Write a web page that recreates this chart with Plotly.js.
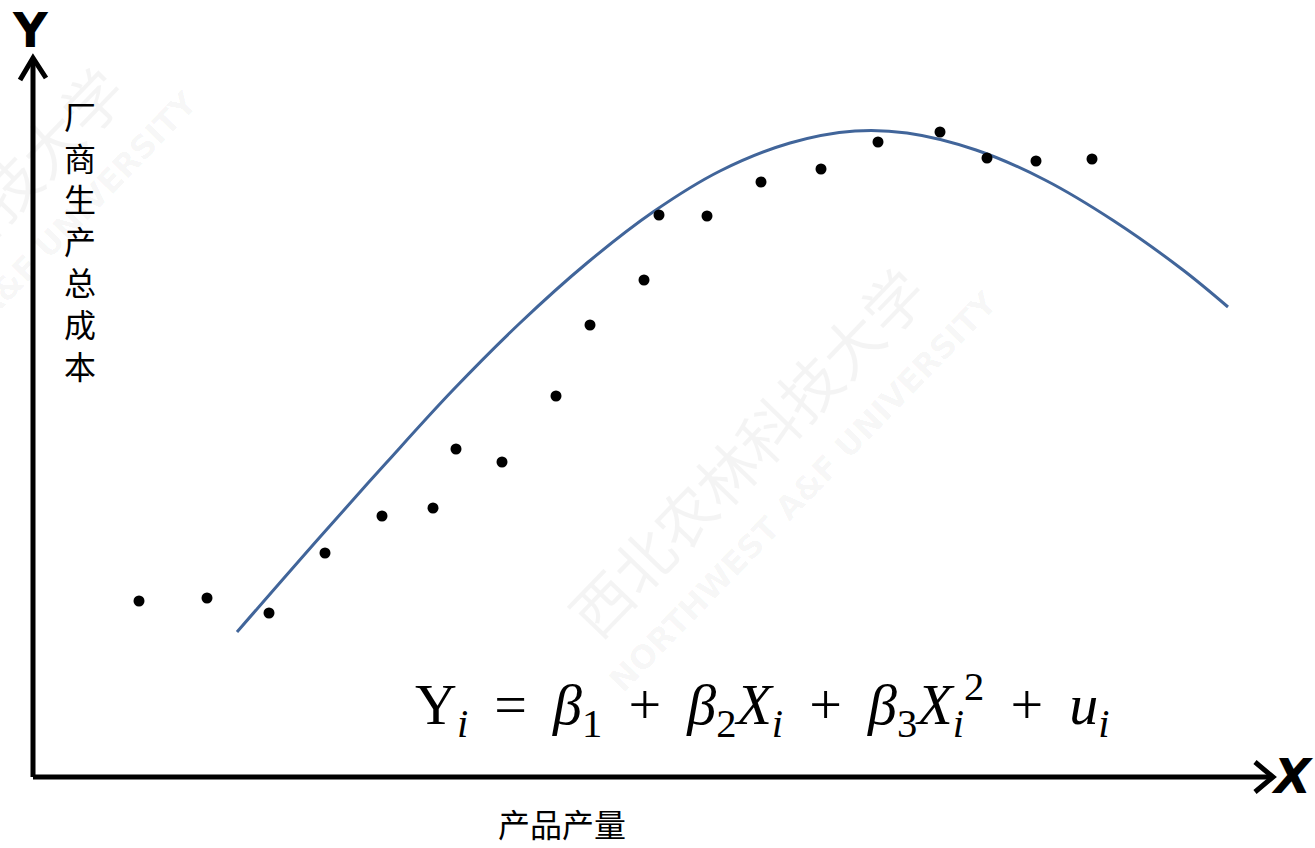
<!DOCTYPE html>
<html>
<head>
<meta charset="utf-8">
<script src="https://cdn.plot.ly/plotly-3.0.1.min.js"></script>
<style>
  html, body { margin: 0; padding: 0; background: #fff; }
  #chart { width: 1315px; height: 848px; }
</style>
</head>
<body>
<div id="chart"></div>
<script>
const qtyDots = [139, 207, 269, 325, 382, 433, 456, 502, 556, 590, 644, 659, 707, 761, 821, 878, 940, 987, 1036, 1092];
const costDots = [247, 250, 235, 295, 332, 340, 399, 386, 452, 523, 568, 633, 632, 666, 679, 706, 716, 690, 687, 689];

// fitted curve
const qtyCurve = [237, 320, 387, 453, 520, 587, 653, 720, 790, 855, 907, 976, 1045, 1114, 1183, 1228];
const costCurve = [216, 311, 386, 458, 525, 585, 636, 677, 705, 717, 715, 698, 668, 627, 578, 541];

const yLabel = '厂<br>商<br>生<br>产<br>总<br>成<br>本';
const xLabel = '产品产量';
const sp = ' \u2009';
const formula = 'Y<sub><i>i</i></sub>' + sp + '=' + sp + '<i>β</i><sub>1</sub>' + sp + '+' + sp +
  '<i>β</i><sub>2</sub><i>X</i><sub><i>i</i></sub>' + sp + '+' + sp +
  '<i>β</i><sub>3</sub><i>X</i><sub><i>i</i></sub><sup>2</sup>' + sp + '+' + sp + '<i>u</i><sub><i>i</i></sub>';

const W = 1315, H = 848;

const dots = {
  x: qtyDots,
  y: costDots,
  mode: 'markers',
  type: 'scatter',
  marker: { size: 11, color: '#000' },
  hoverinfo: 'skip'
};

const curve = {
  x: qtyCurve,
  y: costCurve,
  mode: 'lines',
  type: 'scatter',
  line: { color: '#41659a', width: 3, shape: 'spline', smoothing: 1 },
  hoverinfo: 'skip'
};

const ink = { color: '#000', width: 5 };
const shapes = [
  { type: 'path', path: 'M 33 71 L 33 790', line: ink },
  { type: 'path', path: 'M 20 768 L 33 790 L 46 770', line: ink },
  { type: 'path', path: 'M 33 71 L 1273 71', line: ink },
  { type: 'path', path: 'M 1255 86 L 1273 71 L 1255 56', line: ink }
];

const wmColor = 'rgba(0,0,0,0.045)';
const wm = (xref, yref, x, y, text, font) => ({
  xref: xref, yref: yref, x: x, y: y, text: text, textangle: -46,
  xanchor: 'center', yanchor: 'middle', showarrow: false, font: font
});
const wmCn = { family: 'Noto Sans CJK SC', size: 60, color: wmColor };
const wmEn = { family: 'DejaVu Sans', size: 32, color: wmColor, weight: 'bold' };

const annotations = [
  wm('x', 'y', 745, 398, '西北农林科技大学', wmCn),
  wm('x', 'y', 803, 356, 'NORTHWEST A&F UNIVERSITY', wmEn),
  wm('paper', 'paper', -55 / W, (H - 250) / H, '西北农林科技大学', wmCn),
  wm('paper', 'paper', 3 / W, (H - 292) / H, 'NORTHWEST A&F UNIVERSITY', wmEn),
  { x: 30, y: 818, text: 'Y', showarrow: false,
    font: { family: 'DejaVu Sans', size: 48, color: '#000', weight: 'bold' } },
  { x: 1315, y: 72, text: 'X', xanchor: 'right', showarrow: false,
    font: { family: 'DejaVu Sans', size: 48, color: '#000', style: 'italic', weight: 'bold' } },
  { x: 562, y: 25, text: xLabel, showarrow: false,
    font: { family: 'Noto Sans CJK SC', size: 32, color: '#000' } },
  { x: 80, y: 608, text: yLabel, showarrow: false,
    font: { family: 'Noto Sans CJK SC', size: 32, color: '#000' } },
  { x: 762, y: 143, text: formula, showarrow: false,
    font: { family: 'Liberation Serif', size: 58, color: '#000' } }
];

const layout = {
  width: W,
  height: H,
  margin: { l: 0, r: 0, t: 0, b: 0 },
  paper_bgcolor: '#fff',
  plot_bgcolor: '#fff',
  showlegend: false,
  xaxis: { range: [0, W], visible: false, fixedrange: true },
  yaxis: { range: [0, H], visible: false, fixedrange: true },
  shapes: shapes,
  annotations: annotations
};

Plotly.newPlot('chart', [curve, dots], layout, { displayModeBar: false, staticPlot: true });
</script>
</body>
</html>
